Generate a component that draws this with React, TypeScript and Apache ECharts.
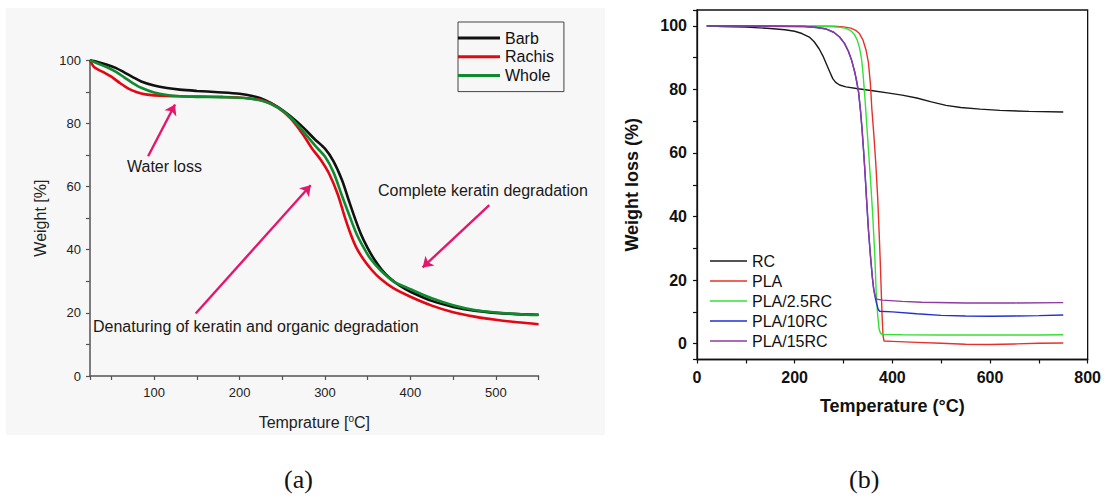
import React, { useEffect, useRef } from 'react';
import * as echarts from 'echarts';

// ---------- Panel (a): keratin TGA ----------
const barb: [number, number][] = [
  [25, 100], [35, 99.4], [45, 98.6], [55, 97.6], [65, 96.2], [75, 94.7], [85, 93.3], [100, 92],
  [115, 91.2], [130, 90.7], [150, 90.3], [175, 89.9], [200, 89.4], [215, 88.7], [230, 87.4],
  [245, 85.2], [260, 82.2], [275, 78.6], [288, 75], [300, 72], [310, 68], [320, 62], [328, 55.5],
  [335, 50], [342, 45], [350, 40.5], [358, 36.8], [366, 33.8], [375, 31.2], [388, 28.5], [400, 26.7],
  [425, 23.8], [450, 21.9], [475, 20.7], [500, 20], [525, 19.6], [550, 19.4],
];
const rachis: [number, number][] = [
  [25, 100], [30, 97.8], [40, 96.3], [50, 94.8], [60, 92.8], [70, 91], [80, 89.9], [90, 89.2],
  [100, 88.9], [130, 88.6], [180, 88.4], [210, 88], [230, 87], [245, 85], [260, 81.5], [275, 76.2],
  [285, 72], [295, 68.5], [305, 64], [315, 57.5], [323, 50.5], [330, 45], [337, 40.5], [345, 37],
  [355, 33.5], [365, 30.8], [380, 27.8], [400, 25.1], [425, 22.3], [450, 20.2], [475, 18.8],
  [500, 17.8], [525, 17], [550, 16.4],
];
const whole: [number, number][] = [
  [25, 100], [35, 98.9], [45, 97.8], [55, 96.4], [65, 94.6], [75, 92.8], [85, 91.3], [100, 89.8],
  [115, 89], [130, 88.6], [150, 88.4], [180, 88.3], [210, 87.9], [230, 86.9], [245, 85], [260, 81.8],
  [275, 77.3], [290, 72.5], [300, 69.5], [310, 64.5], [320, 57], [329, 50.5], [337, 45], [345, 40.8],
  [353, 37.2], [365, 33.5], [380, 30], [400, 27.5], [425, 24.6], [450, 22.4], [475, 20.9],
  [500, 20.1], [525, 19.6], [550, 19.3],
];
const leftNames = ['Barb', 'Rachis', 'Whole'];
// annotation arrows in data coords: [x1, y1, x2, y2] (arrow head at x2,y2)
const annotationArrows: [number, number, number, number][] = [
  [93, 69.6, 124.5, 86],
  [148.7, 19.8, 283.3, 60.4],
  [492.3, 54.1, 414.3, 34.4],
];

// ---------- Panel (b): PLA / RC TGA ----------
const rc: [number, number][] = [
  [20, 100], [50, 99.8], [100, 99.6], [150, 99.2], [180, 98.8], [200, 98.3], [215, 97.6], [230, 96.5],
  [240, 95], [250, 92.8], [258, 90.5], [265, 88], [272, 85.5], [278, 83.4], [284, 82.2], [292, 81.4],
  [305, 80.8], [330, 80.2], [360, 79.6], [390, 78.9], [420, 78.2], [450, 77.3], [480, 76.1], [510, 75],
  [540, 74.3], [580, 73.8], [620, 73.4], [680, 73.1], [750, 72.9],
];
const pla: [number, number][] = [
  [20, 100], [100, 100], [200, 99.9], [280, 99.9], [300, 99.7], [315, 99.3], [325, 98.6], [333, 97.5],
  [340, 95.5], [346, 92.5], [351, 88.5], [355, 82], [358, 74], [362, 66], [366, 57], [370, 46],
  [373, 35], [375, 27], [377, 18], [379, 9], [381, 2.5], [383, 0.8], [400, 0.7], [450, 0.4],
  [500, 0.1], [550, -0.2], [600, -0.3], [650, -0.1], [700, 0.1], [750, 0.2],
];
const pla25: [number, number][] = [
  [20, 100], [200, 99.9], [270, 99.8], [290, 99.6], [305, 99.2], [315, 98.5], [322, 97.4], [328, 95.6],
  [333, 93], [337, 89.5], [340, 85], [344, 77], [348, 68], [352, 59], [356, 50], [360, 40], [364, 28],
  [367, 16], [370, 9], [373, 4.5], [376, 3.2], [379, 2.9], [420, 2.8], [500, 2.7], [600, 2.7],
  [700, 2.7], [750, 2.8],
];
const pla10: [number, number][] = [
  [20, 100], [150, 99.9], [220, 99.8], [245, 99.5], [265, 99], [280, 98], [292, 96.5], [302, 94.5],
  [310, 92], [317, 89], [323, 85.5], [327, 82.5], [331, 79], [335, 73], [338, 67.5], [341, 61],
  [344, 54], [347, 46], [351, 36], [355, 28], [359, 21], [362, 17], [365, 14.5], [368, 12.5],
  [371, 10.8], [374, 10.2], [400, 10], [450, 9.4], [500, 8.9], [550, 8.7], [600, 8.6], [650, 8.7],
  [700, 8.8], [750, 9],
];
const pla15: [number, number][] = [
  [20, 100], [150, 99.9], [220, 99.8], [245, 99.5], [265, 99], [280, 98], [292, 96.5], [302, 94.5],
  [310, 92], [317, 89], [323, 85.5], [327, 82.5], [331, 79], [335, 73], [338, 67.5], [341, 61],
  [344, 54], [347, 46], [351, 36], [355, 28], [359, 21], [362, 17], [365, 15], [368, 14],
  [380, 13.7], [420, 13.3], [460, 13], [550, 12.8], [650, 12.8], [750, 12.9],
];
const rightNames = ['RC', 'PLA', 'PLA/2.5RC', 'PLA/10RC', 'PLA/15RC'];

const SANS = 'Liberation Sans, Arial, sans-serif';
const SERIF = 'Liberation Serif, Times New Roman, serif';

export default function App() {
  const ref = useRef<HTMLDivElement>(null);

  useEffect(() => {
    if (!ref.current) return;
    const chart = echarts.init(ref.current, null, { renderer: 'svg' });

    const leftAxisColor = '#555';
    const rightAxisColor = '#111';

    const leftLine = (name: string, data: [number, number][], color: string, extra: any = {}) => ({
      name,
      type: 'line',
      xAxisIndex: 0,
      yAxisIndex: 0,
      data,
      showSymbol: false,
      smooth: 0.3,
      lineStyle: { color, width: 2.6 },
      itemStyle: { color },
      emphasis: { disabled: true },
      silent: true,
      ...extra,
    });
    const rightLine = (name: string, data: [number, number][], color: string) => ({
      name,
      type: 'line',
      xAxisIndex: 1,
      yAxisIndex: 1,
      data,
      showSymbol: false,
      smooth: false,
      lineStyle: { color, width: 1.4 },
      itemStyle: { color },
      emphasis: { disabled: true },
      silent: true,
    });

    const option: any = {
      animation: false,
      backgroundColor: '#ffffff',
      grid: [
        { left: 90, top: 60.3, width: 448.6, height: 315.7 },
        {
          left: 697, top: 10, width: 391, height: 349.5,
          show: true, borderColor: '#111', borderWidth: 1.3, backgroundColor: 'transparent',
        },
      ],
      xAxis: [
        {
          gridIndex: 0, type: 'value', min: 25, max: 550, minInterval: 50, maxInterval: 50,
          axisLine: { show: true, onZero: false, lineStyle: { color: leftAxisColor, width: 1.5 } },
          axisTick: { show: true, length: 4, inside: false, lineStyle: { color: leftAxisColor, width: 1.2 } },
          axisLabel: {
            formatter: (v: number) => (v % 100 === 0 ? String(v) : ''),
            color: '#222', fontSize: 13, fontFamily: SANS, margin: 10,
          },
          splitLine: { show: false },
          name: 'Temprature [{sup|o}C]',
          nameLocation: 'middle',
          nameGap: 37,
          nameTextStyle: {
            color: '#222', fontSize: 16, fontFamily: SANS, lineHeight: 18,
            rich: { sup: { fontSize: 10, fontFamily: SANS, color: '#222', lineHeight: 8, verticalAlign: 'top' } },
          },
        },
        {
          gridIndex: 1, type: 'value', min: 0, max: 800, interval: 100,
          axisLine: { show: true, onZero: false, lineStyle: { color: rightAxisColor, width: 1.3 } },
          axisTick: { show: true, length: 4, inside: false, lineStyle: { color: rightAxisColor, width: 1.2 } },
          axisLabel: {
            formatter: (v: number) => (v % 200 === 0 ? String(v) : ''),
            color: '#111', fontSize: 16, fontWeight: 'bold', fontFamily: SANS, margin: 10,
          },
          splitLine: { show: false },
          name: 'Temperature (°C)',
          nameLocation: 'middle',
          nameGap: 37,
          nameTextStyle: { color: '#111', fontSize: 18, fontWeight: 'bold', fontFamily: SANS },
        },
      ],
      yAxis: [
        {
          gridIndex: 0, type: 'value', min: 0, max: 100, interval: 10,
          axisLine: { show: true, onZero: false, lineStyle: { color: leftAxisColor, width: 1.5 } },
          axisTick: { show: true, length: 4, inside: false, lineStyle: { color: leftAxisColor, width: 1.2 } },
          axisLabel: {
            formatter: (v: number) => (v % 20 === 0 ? String(v) : ''),
            color: '#222', fontSize: 13, fontFamily: SANS, margin: 9,
          },
          splitLine: { show: false },
          name: 'Weight [%]',
          nameLocation: 'middle',
          nameGap: 42,
          nameRotate: 90,
          nameTextStyle: { color: '#222', fontSize: 16, fontFamily: SANS },
        },
        {
          gridIndex: 1, type: 'value', min: -5, max: 105, minInterval: 10, maxInterval: 10,
          axisLine: { show: true, onZero: false, lineStyle: { color: rightAxisColor, width: 1.3 } },
          axisTick: { show: true, length: 4, inside: false, lineStyle: { color: rightAxisColor, width: 1.2 } },
          axisLabel: {
            formatter: (v: number) => (v % 20 === 0 && v >= 0 && v <= 100 ? String(Math.abs(v)) : ''),
            color: '#111', fontSize: 16, fontWeight: 'bold', fontFamily: SANS, margin: 10,
          },
          splitLine: { show: false },
          name: 'Weight loss (%)',
          nameLocation: 'middle',
          nameGap: 56,
          nameRotate: 90,
          nameTextStyle: { color: '#111', fontSize: 18, fontWeight: 'bold', fontFamily: SANS },
        },
      ],
      legend: [
        {
          data: leftNames,
          orient: 'vertical',
          left: 458,
          top: 22,
          icon: 'rect',
          itemWidth: 42,
          itemHeight: 3,
          itemGap: 2.8,
          padding: [8, 10, 8, 0],
          borderColor: '#444',
          borderWidth: 1,
          selectedMode: false,
          textStyle: { fontSize: 16, fontFamily: SANS, color: '#111' },
        },
        {
          data: rightNames,
          orient: 'vertical',
          left: 710,
          top: 253,
          icon: 'rect',
          itemWidth: 37,
          itemHeight: 1.5,
          itemGap: 4,
          padding: 0,
          selectedMode: false,
          textStyle: { fontSize: 16, fontFamily: SANS, color: '#111' },
        },
      ],
      graphic: [
        {
          type: 'rect', z: -10, silent: true,
          shape: { x: 6, y: 8, width: 599, height: 427 },
          style: { fill: '#f7f7f7' },
        },
        {
          type: 'text', left: 127, top: 158, silent: true,
          style: { text: 'Water loss', fill: '#1a1a1a', font: `16px ${SANS}` },
        },
        {
          type: 'text', left: 93, top: 318, silent: true,
          style: { text: 'Denaturing of keratin and organic degradation', fill: '#1a1a1a', font: `16px ${SANS}` },
        },
        {
          type: 'text', left: 378, top: 182, silent: true,
          style: { text: 'Complete keratin degradation', fill: '#1a1a1a', font: `16px ${SANS}` },
        },
        {
          type: 'text', left: 284, top: 466, silent: true,
          style: { text: '(a)', fill: '#111', font: `26px ${SERIF}` },
        },
        {
          type: 'text', left: 849, top: 466, silent: true,
          style: { text: '(b)', fill: '#111', font: `26px ${SERIF}` },
        },
      ],
      series: [
        leftLine('Barb', barb, '#111111', {
          markLine: {
            silent: true,
            symbol: ['none', 'arrow'],
            symbolSize: 10,
            label: { show: false },
            lineStyle: { color: '#e3176b', width: 2.4, type: 'solid' },
            emphasis: { disabled: true },
            data: annotationArrows.map((a) => [{ coord: [a[0], a[1]] }, { coord: [a[2], a[3]] }]),
          },
        }),
        leftLine('Rachis', rachis, '#e30613'),
        leftLine('Whole', whole, '#0f8a2f'),
        rightLine('RC', rc, '#1a1a1a'),
        rightLine('PLA', pla, '#e8302a'),
        rightLine('PLA/2.5RC', pla25, '#35e035'),
        rightLine('PLA/10RC', pla10, '#2230d0'),
        rightLine('PLA/15RC', pla15, '#8e3aa2'),
      ],
    };

    chart.setOption(option);
    return () => chart.dispose();
  }, []);

  return (
    <div
      ref={ref}
      style={{ position: 'fixed', left: 0, top: 0, width: 1104, height: 496, background: '#fff' }}
    />
  );
}
